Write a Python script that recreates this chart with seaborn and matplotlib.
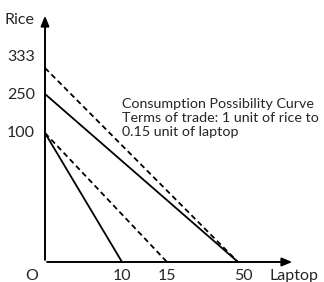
import numpy as np
import pandas as pd
import matplotlib
matplotlib.use("Agg")
import matplotlib.pyplot as plt
import seaborn as sns

# data (schematic diagram, axis not to scale)
x_ticks = [10, 15, 50]
y_ticks = [100, 250, 333]
lines = [
    # (rice intercept, laptop intercept, style)
    (100, 10, "solid"),
    (100, 15, "dashed"),
    (250, 50, "solid"),
    (333, 50, "dashed"),
]
note = "Consumption Possibility Curve\nTerms of trade: 1 unit of rice to\n0.15 unit of laptop"

# schematic scale: value -> pixel position
ox, oy = 45, 262
def sx(v):
    return ox + np.interp(v, [0] + x_ticks, [0, 77, 122, 193])
def sy(v):
    return oy - np.interp(v, [0] + y_ticks, [0, 129, 168, 194])

sns.set_style("white")
plt.rcParams["font.family"] = ["Lato", "DejaVu Sans"]

fig = plt.figure(figsize=(3.24, 2.82), dpi=100)
ax = fig.add_axes([0, 0, 1, 1])
ax.set_xlim(0, 324)
ax.set_ylim(282, 0)
ax.axis("off")

for rice, lap, ls in lines:
    df = pd.DataFrame({"x": [sx(0), sx(lap)], "y": [sy(rice), sy(0)]})
    sns.lineplot(data=df, x="x", y="y", ax=ax, color="black", lw=1.3)
    if ls == "dashed":
        ax.lines[-1].set_dashes([3, 2])

# axes with arrows
arrow = dict(arrowstyle="-|>,head_length=0.6,head_width=0.25", color="black", lw=1.4)
ax.annotate("", xy=(ox, 13), xytext=(ox, oy + 0.7), arrowprops=arrow)
ax.annotate("", xy=(295, oy), xytext=(ox - 0.7, oy), arrowprops=arrow)

fs = 11.5
ax.text(34, 20, "Rice", ha="right", va="center", fontsize=fs)
for v, py in zip(y_ticks, [133, 95, 57]):
    ax.text(35, py, str(v), ha="right", va="center", fontsize=fs)
ax.text(32, 276, "O", ha="center", va="center", fontsize=fs)
for v, px in zip(x_ticks, [122, 167, 243]):
    ax.text(px, 276, str(v), ha="center", va="center", fontsize=fs)
ax.text(294, 276, "Laptop", ha="center", va="center", fontsize=fs)
ax.text(122, 118, note, ha="left", va="center", fontsize=10.3, linespacing=1.25)

fig.savefig("out.png", dpi=100)
